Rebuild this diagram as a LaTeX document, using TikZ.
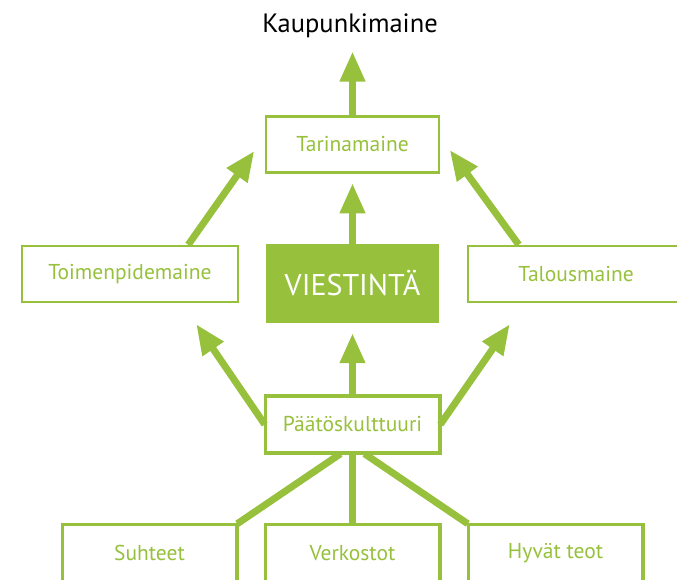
\documentclass[tikz,border=0pt]{standalone}
\usepackage{fontspec}
\setmainfont{PT Sans}
\usetikzlibrary{arrows.meta,calc}
\definecolor{lime}{RGB}{151,193,60}

\tikzset{
  box/.style={draw=lime,line width=2.5pt,fill=white,text=lime,font=\fontsize{21.5}{24}\selectfont,
    minimum width=173pt,minimum height=56pt,inner sep=0pt},
  mainbox/.style={fill=lime,text=white,font=\fontsize{30}{33}\selectfont,
    minimum width=173pt,minimum height=79pt,inner sep=0pt},
  arr/.style={draw=lime,line width=7pt,-{Triangle[width=24pt,length=30pt]}},
  conn/.style={draw=lime,line width=7pt}
}

\begin{document}
\begin{tikzpicture}[x=1pt,y=-1pt]
  \useasboundingbox (0,0) rectangle (677,579);
  \clip (0,0) rectangle (677,579);

  \node[anchor=base,inner sep=0pt,font=\fontsize{26.5}{30}\selectfont] (kaup) at (350,32) {Kaupunkimaine};
  \node[box] (tarina) at (352.5,144.5) {Tarinamaine};
  \node[mainbox] (viest) at (352.5,283.5) {VIESTINTÄ};
  \node[box,minimum width=216pt] (toim) at (130,274) {Toimenpidemaine};
  \node[box,minimum width=216pt] (talous) at (576,274) {Talousmaine};
  \node[box] (paat) at (352.5,424.5) {Päätöskulttuuri};
  \node[box] (suht) at (149.5,553) {Suhteet};
  \node[box] (verk) at (352.5,553) {Verkostot};
  \node[box] (hyva) at (555.5,553) {Hyvät teot};

  % nuolet ylospain
  \draw[arr,shorten >=14pt] (tarina.north) -- (tarina.north |- kaup.south);
  \draw[arr,shorten >=9.5pt] (viest.north) -- (tarina.south);
  \draw[arr,shorten >=10pt] (paat.north) -- (viest.south);
  \draw[arr] ($(toim.north east)+(-51,0)$) -- ($(tarina.west)+(-10.5,6.5)$);
  \draw[arr] ($(talous.north west)+(52,0)$) -- ($(tarina.east)+(9.5,5.5)$);
  \draw[arr] (paat.west) -- ($(toim.south east)+(-43,21)$);
  \draw[arr] (paat.east) -- ($(talous.south west)+(43,21)$);

  % alimmat yhteydet
  \draw[conn] ($(paat.south)+(-12,0)$) -- (suht.north east);
  \draw[conn] (paat.south) -- (verk.north);
  \draw[conn] ($(paat.south)+(12,0)$) -- (hyva.north west);

  % laatikot uudelleen viivojen paalle
  \foreach \n in {paat,suht,verk,hyva}
    \draw[draw=lime,line width=2.5pt] (\n.north west) rectangle (\n.south east);
\end{tikzpicture}
\end{document}
